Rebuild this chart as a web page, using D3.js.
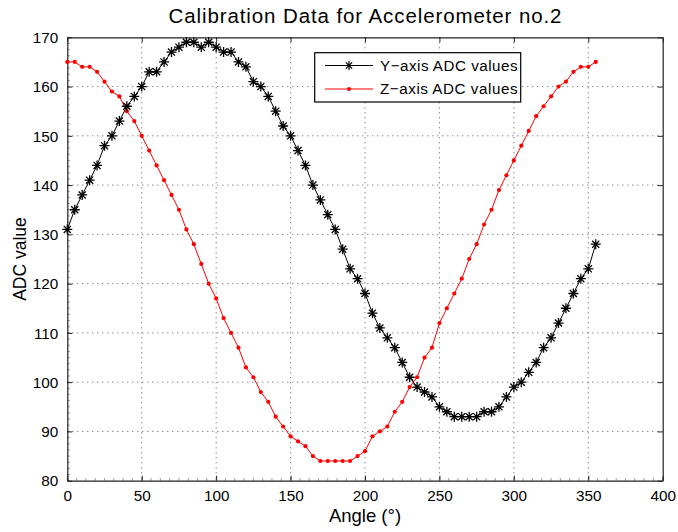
<!DOCTYPE html>
<html>
<head>
<meta charset="utf-8">
<script src="https://cdn.jsdelivr.net/npm/d3@7"></script>
<style>
html,body{margin:0;padding:0;background:#fff;}
svg{display:block;font-family:"Liberation Sans",Arial,Helvetica,sans-serif;}
</style>
</head>
<body>
<div id="chart"></div>
<script>
const angles = [0,5,10,15,20,25,30,35,40,45,50,55,60,65,70,75,80,85,90,95,100,105,110,115,120,125,130,135,140,145,150,155,160,165,170,175,180,185,190,195,200,205,210,215,220,225,230,235,240,245,250,255,260,265,270,275,280,285,290,295,300,305,310,315,320,325,330,335,340,345,350,355];
const yAxisValues = [131,135,138,141,144,148,150,153,156,158,160,163,163,165,167,168,169,169,168,169,168,167,167,165,164,161,160,158,155,152,150,147,144,140,137,134,131,127,123,121,118,114,111,109,107,104,101,99,98,97,95,94,93,93,93,93,94,94,95,97,99,100,102,104,107,109,112,115,118,121,123,128];
const zAxisValues = [165,165,164,164,163,161,159,158,155,153,150,147,144,141,138,135,131,128,124,120,117,113,110,107,103,101,98,96,93,91,89,88,87,85,84,84,84,84,84,85,86,89,90,91,94,96,99,101,105,107,112,115,118,121,125,128,132,135,139,142,145,148,151,154,156,158,160,161,163,164,164,165];
const xTicks = [0,50,100,150,200,250,300,350,400];
const yTicks = [80,90,100,110,120,130,140,150,160,170];
const seriesNames = ["Y\u2212axis ADC values","Z\u2212axis ADC values"];
const titleText = "Calibration Data for Accelerometer no.2";
const xLabel = "Angle (\u00B0)";
const yLabel = "ADC value";

const W = 678, H = 532;
const m = {left:67.3, right:15.3, top:37.3, bottom:51.3};
const iw = W - m.left - m.right, ih = H - m.top - m.bottom;

const svg = d3.select("#chart").append("svg").attr("width", W).attr("height", H);
const g = svg.append("g").attr("transform", `translate(${m.left},${m.top})`);

const x = d3.scaleLinear().domain([0,400]).range([0, iw]);
const y = d3.scaleLinear().domain([80,170]).range([ih, 0]);

// grid
g.append("g").selectAll("line").data(xTicks.slice(1,-1)).join("line")
  .attr("x1", d=>x(d)).attr("x2", d=>x(d)).attr("y1", 0).attr("y2", ih)
  .attr("stroke", "#555").attr("stroke-dasharray", "1,4").attr("stroke-width", 1);
g.append("g").selectAll("line").data(yTicks.slice(1,-1)).join("line")
  .attr("y1", d=>y(d)).attr("y2", d=>y(d)).attr("x1", 0).attr("x2", iw)
  .attr("stroke", "#555").attr("stroke-dasharray", "1,4").attr("stroke-width", 1);

// minor ticks (bottom, left)
const xMinor = d3.range(0, 400.001, 50/8);
const yMinor = d3.range(80, 170.001, 10/8);
g.append("g").selectAll("line").data(xMinor).join("line")
  .attr("x1", d=>x(d)).attr("x2", d=>x(d)).attr("y1", ih).attr("y2", ih-2.5)
  .attr("stroke", "#777").attr("stroke-width", 0.8);
g.append("g").selectAll("line").data(yMinor).join("line")
  .attr("y1", d=>y(d)).attr("y2", d=>y(d)).attr("x1", 0).attr("x2", 2.5)
  .attr("stroke", "#777").attr("stroke-width", 0.8);

// axes
const xAxis = g.append("g").attr("transform", `translate(0,${ih})`)
  .call(d3.axisBottom(x).tickValues(xTicks).tickSizeInner(-5).tickSizeOuter(0).tickPadding(9));
const yAxis = g.append("g")
  .call(d3.axisLeft(y).tickValues(yTicks).tickSizeInner(-5).tickSizeOuter(0).tickPadding(9));
const xTop = g.append("g")
  .call(d3.axisTop(x).tickValues(xTicks).tickSizeInner(-5).tickSizeOuter(0).tickFormat(""));
const yRight = g.append("g").attr("transform", `translate(${iw},0)`)
  .call(d3.axisRight(y).tickValues(yTicks).tickSizeInner(-5).tickSizeOuter(0).tickFormat(""));
[xAxis,yAxis,xTop,yRight].forEach(a=>{
  a.select(".domain").attr("stroke","#222").attr("stroke-width",1.2);
  a.selectAll(".tick line").attr("stroke","#222");
  a.selectAll("text").attr("font-size", 15.3).attr("fill","#000")
    .attr("font-family",'"Liberation Sans",Arial,sans-serif');
});
xAxis.selectAll("text").attr("dy","0.71em");
yAxis.selectAll("text").attr("dy","0.34em");

// lines
const line = (vals) => d3.line().x((d,i)=>x(angles[i])).y(d=>y(d))(vals);
g.append("path").attr("d", line(zAxisValues)).attr("fill","none").attr("stroke","#ff0000").attr("stroke-width",1);
g.append("path").attr("d", line(yAxisValues)).attr("fill","none").attr("stroke","#000").attr("stroke-width",1);

// markers
const starPath = r => {
  const d = r*0.7071;
  return `M${-r},0L${r},0M0,${-r}L0,${r}M${-d},${-d}L${d},${d}M${-d},${d}L${d},${-d}`;
};
g.append("g").selectAll("circle").data(zAxisValues).join("circle")
  .attr("cx",(d,i)=>x(angles[i])).attr("cy",d=>y(d)).attr("r",2.1).attr("fill","#ff0000");
g.append("g").selectAll("path").data(yAxisValues).join("path")
  .attr("transform",(d,i)=>`translate(${x(angles[i])},${y(d)})`)
  .attr("d", starPath(5)).attr("stroke","#000").attr("stroke-width",1.3).attr("fill","none");

// title and labels
svg.append("text").attr("x", m.left + iw/2).attr("y", 22.7).attr("text-anchor","middle")
  .attr("font-size", 20.5).attr("textLength", 393).attr("lengthAdjust","spacing").text(titleText);
svg.append("text").attr("x", m.left + iw/2).attr("y", 522).attr("text-anchor","middle")
  .attr("font-size", 18.5).text(xLabel);
svg.append("text").attr("transform", `translate(26,${m.top + ih/2}) rotate(-90)`).attr("text-anchor","middle")
  .attr("font-size", 17.5).text(yLabel);

// legend
const lg = svg.append("g");
lg.append("rect").attr("x",314.7).attr("y",52.7).attr("width",206).attr("height",49.3)
  .attr("fill","#fff").attr("stroke","#000").attr("stroke-width",1.2);
const rows = [{name:seriesNames[0], color:"#000", type:"star", cy:65.5},
              {name:seriesNames[1], color:"#ff0000", type:"dot", cy:89}];
rows.forEach(r=>{
  lg.append("line").attr("x1",325).attr("x2",373).attr("y1",r.cy).attr("y2",r.cy)
    .attr("stroke",r.color).attr("stroke-width",1);
  if (r.type==="star") {
    lg.append("path").attr("transform",`translate(349,${r.cy})`).attr("d",starPath(4.5))
      .attr("stroke","#000").attr("stroke-width",1.2).attr("fill","none");
  } else {
    lg.append("circle").attr("cx",349).attr("cy",r.cy).attr("r",2).attr("fill","#ff0000");
  }
  lg.append("text").attr("x",380).attr("y",r.cy+5.4).attr("font-size",15.2)
    .attr("textLength",137.5).attr("lengthAdjust","spacing").text(r.name);
});
</script>
</body>
</html>
